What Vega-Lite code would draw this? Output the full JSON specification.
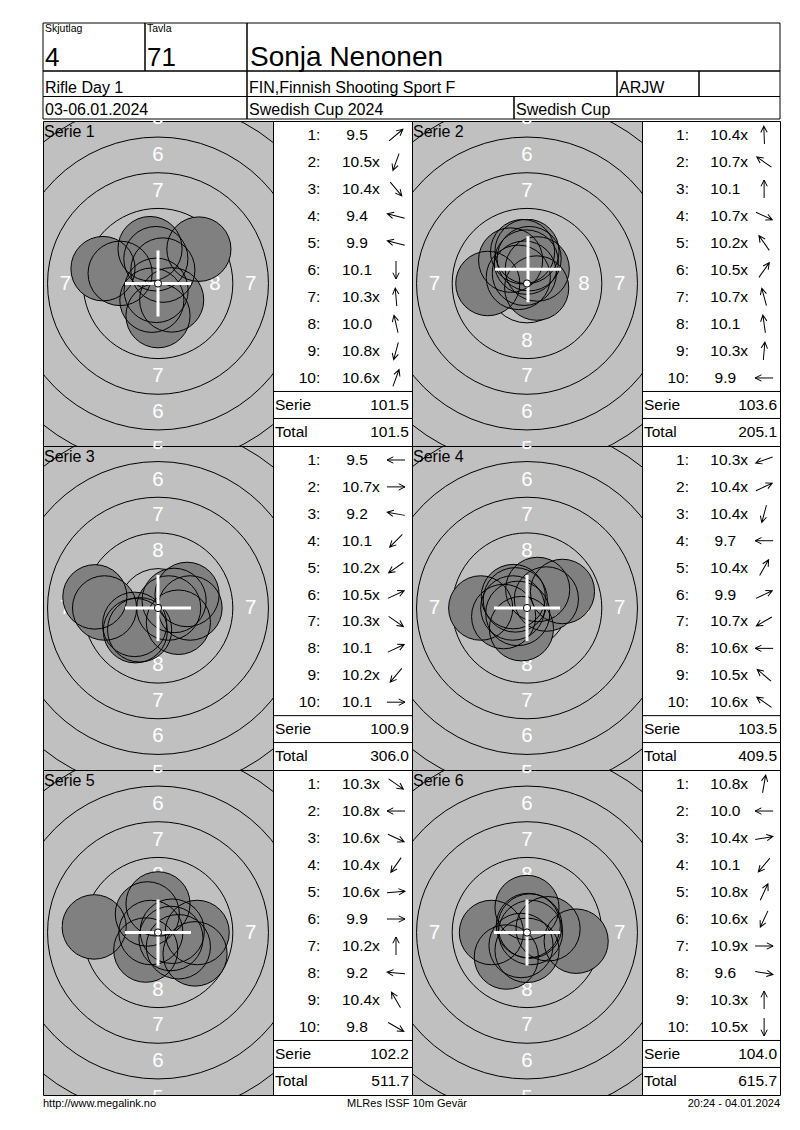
{
  "$schema": "https://vega.github.io/schema/vega-lite/v6.json",
  "background": "white",
  "padding": {"left": 42, "top": 22, "right": 21, "bottom": 10},
  "config": {
    "view": {"stroke": null},
    "axis": {"disable": true},
    "legend": {"disable": true},
    "font": "Liberation Sans",
    "text": {"color": "black", "font": "Liberation Sans"},
    "concat": {"spacing": 0}
  },
  "datasets": {
    "cells": [
      {"x0": 0, "x1": 102, "y0": 0, "y1": 48, "tag": "Skjutlag", "text": "4", "kind": "big"},
      {"x0": 102, "x1": 204, "y0": 0, "y1": 48, "tag": "Tavla", "text": "71", "kind": "big"},
      {"x0": 204, "x1": 737, "y0": 0, "y1": 48, "tag": "", "text": "Sonja Nenonen", "kind": "name"},
      {"x0": 0, "x1": 204, "y0": 48, "y1": 73.5, "tag": "", "text": "Rifle Day 1", "kind": "row"},
      {"x0": 204, "x1": 574, "y0": 48, "y1": 73.5, "tag": "", "text": "FIN,Finnish Shooting Sport F", "kind": "row"},
      {"x0": 574, "x1": 656, "y0": 48, "y1": 73.5, "tag": "", "text": "ARJW", "kind": "row"},
      {"x0": 656, "x1": 737, "y0": 48, "y1": 73.5, "tag": "", "text": "", "kind": "row"},
      {"x0": 0, "x1": 204, "y0": 73.5, "y1": 96, "tag": "", "text": "03-06.01.2024", "kind": "row"},
      {"x0": 204, "x1": 471, "y0": 73.5, "y1": 96, "tag": "", "text": "Swedish Cup 2024", "kind": "row"},
      {"x0": 471, "x1": 737, "y0": 73.5, "y1": 96, "tag": "", "text": "Swedish Cup", "kind": "row"}
    ],
    "series": [
      {"serie": 1, "label": "Serie 1"}, {"serie": 2, "label": "Serie 2"}, {"serie": 3, "label": "Serie 3"},
      {"serie": 4, "label": "Serie 4"}, {"serie": 5, "label": "Serie 5"}, {"serie": 6, "label": "Serie 6"}
    ],
    "rings": [
      {"ring": 10, "r": 0.25, "x": 0, "y": 0},
      {"ring": 9, "r": 2.75, "x": 0, "y": 0},
      {"ring": 8, "r": 5.25, "x": 0, "y": 0},
      {"ring": 7, "r": 7.75, "x": 0, "y": 0},
      {"ring": 6, "r": 10.25, "x": 0, "y": 0},
      {"ring": 5, "r": 12.75, "x": 0, "y": 0}
    ],
    "ringlabels": [
      {"label": "8", "x": 0, "y": 4}, {"label": "8", "x": 0, "y": -4}, {"label": "8", "x": -4, "y": 0}, {"label": "8", "x": 4, "y": 0},
      {"label": "7", "x": 0, "y": 6.5}, {"label": "7", "x": 0, "y": -6.5}, {"label": "7", "x": -6.5, "y": 0}, {"label": "7", "x": 6.5, "y": 0},
      {"label": "6", "x": 0, "y": 9}, {"label": "6", "x": 0, "y": -9},
      {"label": "5", "x": 0, "y": 11.6}, {"label": "5", "x": 0, "y": -11.6}
    ],
    "cross": [
      {"serie": 1, "x": 0, "y": 0}, {"serie": 2, "x": 0.07, "y": 1.0}, {"serie": 3, "x": 0, "y": 0},
      {"serie": 4, "x": 0, "y": 0}, {"serie": 5, "x": 0, "y": 0}, {"serie": 6, "x": 0, "y": 0}
    ],
    "seps": [{"line": 10.5}, {"line": 11.5}],
    "footer": [
      {"pos": "left", "text": "http://www.megalink.no"},
      {"pos": "center", "text": "MLRes ISSF 10m Gevär"},
      {"pos": "right", "text": "20:24 - 04.01.2024"}
    ],
    "shots": [
      {"serie": 1, "n": 1, "score": 9.5, "inner": false, "dir": 40, "x": 2.87, "y": 2.41},
      {"serie": 1, "n": 2, "score": 10.5, "inner": true, "dir": -110, "x": -0.43, "y": -1.17},
      {"serie": 1, "n": 3, "score": 10.4, "inner": true, "dir": -50, "x": 0.96, "y": -1.15},
      {"serie": 1, "n": 4, "score": 9.4, "inner": false, "dir": 165, "x": -3.86, "y": 1.04},
      {"serie": 1, "n": 5, "score": 9.9, "inner": false, "dir": 165, "x": -2.66, "y": 0.71},
      {"serie": 1, "n": 6, "score": 10.1, "inner": false, "dir": -90, "x": 0, "y": -2.25},
      {"serie": 1, "n": 7, "score": 10.3, "inner": true, "dir": 95, "x": -0.15, "y": 1.74},
      {"serie": 1, "n": 8, "score": 10.0, "inner": false, "dir": 103, "x": -0.56, "y": 2.44},
      {"serie": 1, "n": 9, "score": 10.8, "inner": true, "dir": -105, "x": -0.13, "y": -0.48},
      {"serie": 1, "n": 10, "score": 10.6, "inner": true, "dir": 70, "x": 0.34, "y": 0.94},
      {"serie": 2, "n": 1, "score": 10.4, "inner": true, "dir": 92, "x": -0.05, "y": 1.5},
      {"serie": 2, "n": 2, "score": 10.7, "inner": true, "dir": 145, "x": -0.61, "y": 0.43},
      {"serie": 2, "n": 3, "score": 10.1, "inner": false, "dir": 90, "x": 0, "y": 2.25},
      {"serie": 2, "n": 4, "score": 10.7, "inner": true, "dir": -25, "x": 0.68, "y": -0.32},
      {"serie": 2, "n": 5, "score": 10.2, "inner": true, "dir": 125, "x": -1.15, "y": 1.64},
      {"serie": 2, "n": 6, "score": 10.5, "inner": true, "dir": 55, "x": 0.72, "y": 1.02},
      {"serie": 2, "n": 7, "score": 10.7, "inner": true, "dir": 105, "x": -0.19, "y": 0.72},
      {"serie": 2, "n": 8, "score": 10.1, "inner": false, "dir": 98, "x": -0.31, "y": 2.23},
      {"serie": 2, "n": 9, "score": 10.3, "inner": true, "dir": 85, "x": 0.15, "y": 1.74},
      {"serie": 2, "n": 10, "score": 9.9, "inner": false, "dir": 180, "x": -2.75, "y": 0},
      {"serie": 3, "n": 1, "score": 9.5, "inner": false, "dir": 180, "x": -3.75, "y": 0},
      {"serie": 3, "n": 2, "score": 10.7, "inner": true, "dir": 0, "x": 0.75, "y": 0},
      {"serie": 3, "n": 3, "score": 9.2, "inner": false, "dir": 170, "x": -4.43, "y": 0.78},
      {"serie": 3, "n": 4, "score": 10.1, "inner": false, "dir": -135, "x": -1.59, "y": -1.59},
      {"serie": 3, "n": 5, "score": 10.2, "inner": true, "dir": -145, "x": -1.64, "y": -1.15},
      {"serie": 3, "n": 6, "score": 10.5, "inner": true, "dir": 25, "x": 1.13, "y": 0.53},
      {"serie": 3, "n": 7, "score": 10.3, "inner": true, "dir": -35, "x": 1.43, "y": -1.0},
      {"serie": 3, "n": 8, "score": 10.1, "inner": false, "dir": 25, "x": 2.04, "y": 0.95},
      {"serie": 3, "n": 9, "score": 10.2, "inner": true, "dir": -130, "x": -1.29, "y": -1.53},
      {"serie": 3, "n": 10, "score": 10.1, "inner": false, "dir": 0, "x": 2.25, "y": 0},
      {"serie": 4, "n": 1, "score": 10.3, "inner": true, "dir": -160, "x": -1.64, "y": -0.6},
      {"serie": 4, "n": 2, "score": 10.4, "inner": true, "dir": 25, "x": 1.36, "y": 0.63},
      {"serie": 4, "n": 3, "score": 10.4, "inner": true, "dir": -105, "x": -0.39, "y": -1.45},
      {"serie": 4, "n": 4, "score": 9.7, "inner": false, "dir": 180, "x": -3.25, "y": 0},
      {"serie": 4, "n": 5, "score": 10.4, "inner": true, "dir": 60, "x": 0.75, "y": 1.3},
      {"serie": 4, "n": 6, "score": 9.9, "inner": false, "dir": 25, "x": 2.49, "y": 1.16},
      {"serie": 4, "n": 7, "score": 10.7, "inner": true, "dir": -150, "x": -0.65, "y": -0.38},
      {"serie": 4, "n": 8, "score": 10.6, "inner": true, "dir": 180, "x": -1.0, "y": 0},
      {"serie": 4, "n": 9, "score": 10.5, "inner": true, "dir": 140, "x": -0.96, "y": 0.8},
      {"serie": 4, "n": 10, "score": 10.6, "inner": true, "dir": 145, "x": -0.82, "y": 0.57},
      {"serie": 5, "n": 1, "score": 10.3, "inner": true, "dir": -35, "x": 1.43, "y": -1.0},
      {"serie": 5, "n": 2, "score": 10.8, "inner": true, "dir": 180, "x": -0.5, "y": 0},
      {"serie": 5, "n": 3, "score": 10.6, "inner": true, "dir": -25, "x": 0.91, "y": -0.42},
      {"serie": 5, "n": 4, "score": 10.4, "inner": true, "dir": -125, "x": -0.86, "y": -1.23},
      {"serie": 5, "n": 5, "score": 10.6, "inner": true, "dir": 5, "x": 1.0, "y": 0.09},
      {"serie": 5, "n": 6, "score": 9.9, "inner": false, "dir": 0, "x": 2.75, "y": 0},
      {"serie": 5, "n": 7, "score": 10.2, "inner": true, "dir": 90, "x": 0, "y": 2.0},
      {"serie": 5, "n": 8, "score": 9.2, "inner": false, "dir": 175, "x": -4.48, "y": 0.39},
      {"serie": 5, "n": 9, "score": 10.4, "inner": true, "dir": 120, "x": -0.75, "y": 1.3},
      {"serie": 5, "n": 10, "score": 9.8, "inner": false, "dir": -30, "x": 2.6, "y": -1.5},
      {"serie": 6, "n": 1, "score": 10.8, "inner": true, "dir": 80, "x": 0.09, "y": 0.49},
      {"serie": 6, "n": 2, "score": 10.0, "inner": false, "dir": 180, "x": -2.5, "y": 0},
      {"serie": 6, "n": 3, "score": 10.4, "inner": true, "dir": 10, "x": 1.48, "y": 0.26},
      {"serie": 6, "n": 4, "score": 10.1, "inner": false, "dir": -130, "x": -1.45, "y": -1.72},
      {"serie": 6, "n": 5, "score": 10.8, "inner": true, "dir": 65, "x": 0.21, "y": 0.45},
      {"serie": 6, "n": 6, "score": 10.6, "inner": true, "dir": -115, "x": -0.42, "y": -0.91},
      {"serie": 6, "n": 7, "score": 10.9, "inner": true, "dir": 0, "x": 0.25, "y": 0},
      {"serie": 6, "n": 8, "score": 9.6, "inner": false, "dir": -10, "x": 3.45, "y": -0.61},
      {"serie": 6, "n": 9, "score": 10.3, "inner": true, "dir": 90, "x": 0, "y": 1.75},
      {"serie": 6, "n": 10, "score": 10.5, "inner": true, "dir": -90, "x": 0, "y": -1.25}
    ]
  },
  "spacing": 0,
  "vconcat": [
    {
      "width": 737, "height": 96,
      "data": {"name": "cells"},
      "layer": [
        {"mark": {"type": "rect", "filled": false, "color": "black", "strokeWidth": 1},
         "encoding": {
           "x": {"field": "x0", "type": "quantitative", "scale": {"domain": [0, 737]}},
           "x2": {"field": "x1"},
           "y": {"field": "y0", "type": "quantitative", "scale": {"domain": [0, 96], "reverse": true}},
           "y2": {"field": "y1"}}},
        {"transform": [{"filter": "datum.tag != ''"}],
         "mark": {"type": "text", "align": "left", "baseline": "top", "dx": 2, "dy": 1, "fontSize": 10.5},
         "encoding": {
           "x": {"field": "x0", "type": "quantitative", "scale": {"domain": [0, 737]}},
           "y": {"field": "y0", "type": "quantitative", "scale": {"domain": [0, 96], "reverse": true}},
           "text": {"field": "tag"}}},
        {"transform": [{"filter": "datum.kind == 'big'"}],
         "mark": {"type": "text", "align": "left", "baseline": "alphabetic", "dx": 2, "dy": -5, "fontSize": 26},
         "encoding": {
           "x": {"field": "x0", "type": "quantitative", "scale": {"domain": [0, 737]}},
           "y": {"field": "y1", "type": "quantitative", "scale": {"domain": [0, 96], "reverse": true}},
           "text": {"field": "text"}}},
        {"transform": [{"filter": "datum.kind == 'name'"}],
         "mark": {"type": "text", "align": "left", "baseline": "alphabetic", "dx": 3, "dy": -5, "fontSize": 28},
         "encoding": {
           "x": {"field": "x0", "type": "quantitative", "scale": {"domain": [0, 737]}},
           "y": {"field": "y1", "type": "quantitative", "scale": {"domain": [0, 96], "reverse": true}},
           "text": {"field": "text"}}},
        {"transform": [{"filter": "datum.kind == 'row'"}],
         "mark": {"type": "text", "align": "left", "baseline": "alphabetic", "dx": 2, "dy": -4, "fontSize": 16},
         "encoding": {
           "x": {"field": "x0", "type": "quantitative", "scale": {"domain": [0, 737]}},
           "y": {"field": "y1", "type": "quantitative", "scale": {"domain": [0, 96], "reverse": true}},
           "text": {"field": "text"}}}
      ]
    },
    {
      "columns": 4, "spacing": 0, "bounds": "flush", "align": "each",
      "concat": [
        {"width": 230, "height": 325, "view": {"fill": "#c0c0c0", "stroke": "black", "strokeWidth": 1},
         "layer": [
          {"data": {"name": "rings"}, "transform": [{"filter": "datum.ring < 10"}],
           "mark": {"type": "point", "shape": "circle", "filled": false, "color": "black", "strokeWidth": 1, "opacity": 1, "clip": true},
           "encoding": {"x": {"field": "x", "type": "quantitative", "scale": {"domain": [-8.07, 8.07]}}, "y": {"field": "y", "type": "quantitative", "scale": {"domain": [-11.4, 11.4]}},
             "size": {"field": "r", "type": "quantitative", "legend": null, "scale": {"type": "pow", "exponent": 2, "domain": [0, 16], "range": [0, 207936]}}}},
          {"data": {"name": "ringlabels"},
           "mark": {"type": "text", "color": "white", "fontSize": 20.5, "baseline": "middle", "clip": true},
           "encoding": {"x": {"field": "x", "type": "quantitative", "scale": {"domain": [-8.07, 8.07]}}, "y": {"field": "y", "type": "quantitative", "scale": {"domain": [-11.4, 11.4]}}, "text": {"field": "label"}}},
          {"data": {"name": "shots"}, "transform": [{"filter": "datum.serie == 1"}],
           "mark": {"type": "point", "shape": "circle", "filled": true, "color": "#808080", "strokeWidth": 0, "opacity": 1},
           "encoding": {"x": {"field": "x", "type": "quantitative", "scale": {"domain": [-8.07, 8.07]}}, "y": {"field": "y", "type": "quantitative", "scale": {"domain": [-11.4, 11.4]}},
             "size": {"datum": 2.25, "type": "quantitative", "legend": null, "scale": {"type": "pow", "exponent": 2, "domain": [0, 16], "range": [0, 207936]}}}},
          {"data": {"name": "shots"}, "transform": [{"filter": "datum.serie == 1"}],
           "mark": {"type": "point", "shape": "circle", "filled": false, "color": "black", "strokeWidth": 1, "opacity": 1},
           "encoding": {"x": {"field": "x", "type": "quantitative", "scale": {"domain": [-8.07, 8.07]}}, "y": {"field": "y", "type": "quantitative", "scale": {"domain": [-11.4, 11.4]}},
             "size": {"datum": 2.25, "type": "quantitative", "legend": null, "scale": {"type": "pow", "exponent": 2, "domain": [0, 16], "range": [0, 207936]}}}},
          {"data": {"name": "cross"}, "transform": [{"filter": "datum.serie == 1"}],
           "mark": {"type": "point", "shape": "M-1,0L1,0M0,-1L0,1", "filled": false, "color": "white", "strokeWidth": 3, "size": 4356, "opacity": 1},
           "encoding": {"x": {"field": "x", "type": "quantitative", "scale": {"domain": [-8.07, 8.07]}}, "y": {"field": "y", "type": "quantitative", "scale": {"domain": [-11.4, 11.4]}}}},
          {"data": {"name": "rings"}, "transform": [{"filter": "datum.ring == 10"}],
           "mark": {"type": "point", "shape": "circle", "filled": true, "fill": "white", "stroke": "black", "strokeWidth": 1, "opacity": 1},
           "encoding": {"x": {"field": "x", "type": "quantitative", "scale": {"domain": [-8.07, 8.07]}}, "y": {"field": "y", "type": "quantitative", "scale": {"domain": [-11.4, 11.4]}},
             "size": {"field": "r", "type": "quantitative", "legend": null, "scale": {"type": "pow", "exponent": 2, "domain": [0, 16], "range": [0, 207936]}}}},
          {"data": {"name": "series"}, "transform": [{"filter": "datum.serie == 1"}],
           "mark": {"type": "text", "align": "left", "baseline": "top", "dx": 1, "dy": 2.5, "fontSize": 16},
           "encoding": {"x": {"datum": -8.07, "type": "quantitative", "scale": {"domain": [-8.07, 8.07]}}, "y": {"datum": 11.4, "type": "quantitative", "scale": {"domain": [-11.4, 11.4]}}, "text": {"field": "label"}}}
         ]},
        {"width": 139, "height": 325, "view": {"stroke": "black", "strokeWidth": 1},
         "layer": [
          {"data": {"name": "shots"}, "transform": [{"filter": "datum.serie == 1"}],
           "mark": {"type": "text", "align": "right", "baseline": "middle", "fontSize": 15.5},
           "encoding": {"x": {"datum": 43, "type": "quantitative", "scale": {"domain": [0, 139]}}, "y": {"field": "n", "type": "quantitative", "scale": {"domain": [0.48, 12.52], "reverse": true}}, "text": {"field": "n", "type": "quantitative"}}},
          {"data": {"name": "shots"}, "transform": [{"filter": "datum.serie == 1"}],
           "mark": {"type": "text", "align": "left", "baseline": "middle", "fontSize": 15.5},
           "encoding": {"x": {"datum": 43, "type": "quantitative", "scale": {"domain": [0, 139]}}, "y": {"field": "n", "type": "quantitative", "scale": {"domain": [0.48, 12.52], "reverse": true}}, "text": {"value": ":"}}},
          {"data": {"name": "shots"}, "transform": [{"filter": "datum.serie == 1"}],
           "mark": {"type": "text", "align": "center", "baseline": "middle", "fontSize": 15.5},
           "encoding": {"x": {"datum": 84, "type": "quantitative", "scale": {"domain": [0, 139]}}, "y": {"field": "n", "type": "quantitative", "scale": {"domain": [0.48, 12.52], "reverse": true}}, "text": {"field": "score", "type": "quantitative", "format": ".1f"}}},
          {"data": {"name": "shots"}, "transform": [{"filter": "datum.serie == 1 && datum.inner"}],
           "mark": {"type": "text", "align": "left", "baseline": "middle", "fontSize": 15.5},
           "encoding": {"x": {"datum": 99, "type": "quantitative", "scale": {"domain": [0, 139]}}, "y": {"field": "n", "type": "quantitative", "scale": {"domain": [0.48, 12.52], "reverse": true}}, "text": {"value": "x"}}},
          {"data": {"name": "shots"}, "transform": [{"filter": "datum.serie == 1"}],
           "mark": {"type": "point", "shape": "M-1,0L1,0M0.3,-0.35L1,0L0.3,0.35", "filled": false, "color": "black", "strokeWidth": 1, "size": 324, "opacity": 1},
           "encoding": {"x": {"datum": 123, "type": "quantitative", "scale": {"domain": [0, 139]}}, "y": {"field": "n", "type": "quantitative", "scale": {"domain": [0.48, 12.52], "reverse": true}}, "angle": {"field": "dir", "type": "quantitative", "scale": {"domain": [0, 360], "range": [360, 0]}}}},
          {"data": {"name": "seps"},
           "mark": {"type": "rule", "color": "black", "strokeWidth": 1},
           "encoding": {"x": {"datum": 0, "type": "quantitative", "scale": {"domain": [0, 139]}}, "x2": {"datum": 139}, "y": {"field": "line", "type": "quantitative", "scale": {"domain": [0.48, 12.52], "reverse": true}}}},
          {"data": {"name": "shots"}, "transform": [{"filter": "datum.serie == 1"}, {"aggregate": [{"op": "sum", "field": "score", "as": "sum"}]}],
           "layer": [
             {"mark": {"type": "text", "align": "left", "baseline": "middle", "fontSize": 15.5},
              "encoding": {"x": {"datum": 2, "type": "quantitative", "scale": {"domain": [0, 139]}}, "y": {"datum": 11, "type": "quantitative", "scale": {"domain": [0.48, 12.52], "reverse": true}}, "text": {"value": "Serie"}}},
             {"mark": {"type": "text", "align": "right", "baseline": "middle", "fontSize": 15.5},
              "encoding": {"x": {"datum": 136, "type": "quantitative", "scale": {"domain": [0, 139]}}, "y": {"datum": 11, "type": "quantitative", "scale": {"domain": [0.48, 12.52], "reverse": true}}, "text": {"field": "sum", "type": "quantitative", "format": ".1f"}}}
           ]},
          {"data": {"name": "shots"}, "transform": [{"filter": "datum.serie <= 1"}, {"aggregate": [{"op": "sum", "field": "score", "as": "sum"}]}],
           "layer": [
             {"mark": {"type": "text", "align": "left", "baseline": "middle", "fontSize": 15.5},
              "encoding": {"x": {"datum": 2, "type": "quantitative", "scale": {"domain": [0, 139]}}, "y": {"datum": 12, "type": "quantitative", "scale": {"domain": [0.48, 12.52], "reverse": true}}, "text": {"value": "Total"}}},
             {"mark": {"type": "text", "align": "right", "baseline": "middle", "fontSize": 15.5},
              "encoding": {"x": {"datum": 136, "type": "quantitative", "scale": {"domain": [0, 139]}}, "y": {"datum": 12, "type": "quantitative", "scale": {"domain": [0.48, 12.52], "reverse": true}}, "text": {"field": "sum", "type": "quantitative", "format": ".1f"}}}
           ]}
         ]},
        {"width": 230, "height": 325, "view": {"fill": "#c0c0c0", "stroke": "black", "strokeWidth": 1},
         "layer": [
          {"data": {"name": "rings"}, "transform": [{"filter": "datum.ring < 10"}],
           "mark": {"type": "point", "shape": "circle", "filled": false, "color": "black", "strokeWidth": 1, "opacity": 1, "clip": true},
           "encoding": {"x": {"field": "x", "type": "quantitative", "scale": {"domain": [-8.07, 8.07]}}, "y": {"field": "y", "type": "quantitative", "scale": {"domain": [-11.4, 11.4]}},
             "size": {"field": "r", "type": "quantitative", "legend": null, "scale": {"type": "pow", "exponent": 2, "domain": [0, 16], "range": [0, 207936]}}}},
          {"data": {"name": "ringlabels"},
           "mark": {"type": "text", "color": "white", "fontSize": 20.5, "baseline": "middle", "clip": true},
           "encoding": {"x": {"field": "x", "type": "quantitative", "scale": {"domain": [-8.07, 8.07]}}, "y": {"field": "y", "type": "quantitative", "scale": {"domain": [-11.4, 11.4]}}, "text": {"field": "label"}}},
          {"data": {"name": "shots"}, "transform": [{"filter": "datum.serie == 2"}],
           "mark": {"type": "point", "shape": "circle", "filled": true, "color": "#808080", "strokeWidth": 0, "opacity": 1},
           "encoding": {"x": {"field": "x", "type": "quantitative", "scale": {"domain": [-8.07, 8.07]}}, "y": {"field": "y", "type": "quantitative", "scale": {"domain": [-11.4, 11.4]}},
             "size": {"datum": 2.25, "type": "quantitative", "legend": null, "scale": {"type": "pow", "exponent": 2, "domain": [0, 16], "range": [0, 207936]}}}},
          {"data": {"name": "shots"}, "transform": [{"filter": "datum.serie == 2"}],
           "mark": {"type": "point", "shape": "circle", "filled": false, "color": "black", "strokeWidth": 1, "opacity": 1},
           "encoding": {"x": {"field": "x", "type": "quantitative", "scale": {"domain": [-8.07, 8.07]}}, "y": {"field": "y", "type": "quantitative", "scale": {"domain": [-11.4, 11.4]}},
             "size": {"datum": 2.25, "type": "quantitative", "legend": null, "scale": {"type": "pow", "exponent": 2, "domain": [0, 16], "range": [0, 207936]}}}},
          {"data": {"name": "cross"}, "transform": [{"filter": "datum.serie == 2"}],
           "mark": {"type": "point", "shape": "M-1,0L1,0M0,-1L0,1", "filled": false, "color": "white", "strokeWidth": 3, "size": 4356, "opacity": 1},
           "encoding": {"x": {"field": "x", "type": "quantitative", "scale": {"domain": [-8.07, 8.07]}}, "y": {"field": "y", "type": "quantitative", "scale": {"domain": [-11.4, 11.4]}}}},
          {"data": {"name": "rings"}, "transform": [{"filter": "datum.ring == 10"}],
           "mark": {"type": "point", "shape": "circle", "filled": true, "fill": "white", "stroke": "black", "strokeWidth": 1, "opacity": 1},
           "encoding": {"x": {"field": "x", "type": "quantitative", "scale": {"domain": [-8.07, 8.07]}}, "y": {"field": "y", "type": "quantitative", "scale": {"domain": [-11.4, 11.4]}},
             "size": {"field": "r", "type": "quantitative", "legend": null, "scale": {"type": "pow", "exponent": 2, "domain": [0, 16], "range": [0, 207936]}}}},
          {"data": {"name": "series"}, "transform": [{"filter": "datum.serie == 2"}],
           "mark": {"type": "text", "align": "left", "baseline": "top", "dx": 1, "dy": 2.5, "fontSize": 16},
           "encoding": {"x": {"datum": -8.07, "type": "quantitative", "scale": {"domain": [-8.07, 8.07]}}, "y": {"datum": 11.4, "type": "quantitative", "scale": {"domain": [-11.4, 11.4]}}, "text": {"field": "label"}}}
         ]},
        {"width": 138, "height": 325, "view": {"stroke": "black", "strokeWidth": 1},
         "layer": [
          {"data": {"name": "shots"}, "transform": [{"filter": "datum.serie == 2"}],
           "mark": {"type": "text", "align": "right", "baseline": "middle", "fontSize": 15.5},
           "encoding": {"x": {"datum": 43, "type": "quantitative", "scale": {"domain": [0, 139]}}, "y": {"field": "n", "type": "quantitative", "scale": {"domain": [0.48, 12.52], "reverse": true}}, "text": {"field": "n", "type": "quantitative"}}},
          {"data": {"name": "shots"}, "transform": [{"filter": "datum.serie == 2"}],
           "mark": {"type": "text", "align": "left", "baseline": "middle", "fontSize": 15.5},
           "encoding": {"x": {"datum": 43, "type": "quantitative", "scale": {"domain": [0, 139]}}, "y": {"field": "n", "type": "quantitative", "scale": {"domain": [0.48, 12.52], "reverse": true}}, "text": {"value": ":"}}},
          {"data": {"name": "shots"}, "transform": [{"filter": "datum.serie == 2"}],
           "mark": {"type": "text", "align": "center", "baseline": "middle", "fontSize": 15.5},
           "encoding": {"x": {"datum": 84, "type": "quantitative", "scale": {"domain": [0, 139]}}, "y": {"field": "n", "type": "quantitative", "scale": {"domain": [0.48, 12.52], "reverse": true}}, "text": {"field": "score", "type": "quantitative", "format": ".1f"}}},
          {"data": {"name": "shots"}, "transform": [{"filter": "datum.serie == 2 && datum.inner"}],
           "mark": {"type": "text", "align": "left", "baseline": "middle", "fontSize": 15.5},
           "encoding": {"x": {"datum": 99, "type": "quantitative", "scale": {"domain": [0, 139]}}, "y": {"field": "n", "type": "quantitative", "scale": {"domain": [0.48, 12.52], "reverse": true}}, "text": {"value": "x"}}},
          {"data": {"name": "shots"}, "transform": [{"filter": "datum.serie == 2"}],
           "mark": {"type": "point", "shape": "M-1,0L1,0M0.3,-0.35L1,0L0.3,0.35", "filled": false, "color": "black", "strokeWidth": 1, "size": 324, "opacity": 1},
           "encoding": {"x": {"datum": 123, "type": "quantitative", "scale": {"domain": [0, 139]}}, "y": {"field": "n", "type": "quantitative", "scale": {"domain": [0.48, 12.52], "reverse": true}}, "angle": {"field": "dir", "type": "quantitative", "scale": {"domain": [0, 360], "range": [360, 0]}}}},
          {"data": {"name": "seps"},
           "mark": {"type": "rule", "color": "black", "strokeWidth": 1},
           "encoding": {"x": {"datum": 0, "type": "quantitative", "scale": {"domain": [0, 139]}}, "x2": {"datum": 139}, "y": {"field": "line", "type": "quantitative", "scale": {"domain": [0.48, 12.52], "reverse": true}}}},
          {"data": {"name": "shots"}, "transform": [{"filter": "datum.serie == 2"}, {"aggregate": [{"op": "sum", "field": "score", "as": "sum"}]}],
           "layer": [
             {"mark": {"type": "text", "align": "left", "baseline": "middle", "fontSize": 15.5},
              "encoding": {"x": {"datum": 2, "type": "quantitative", "scale": {"domain": [0, 139]}}, "y": {"datum": 11, "type": "quantitative", "scale": {"domain": [0.48, 12.52], "reverse": true}}, "text": {"value": "Serie"}}},
             {"mark": {"type": "text", "align": "right", "baseline": "middle", "fontSize": 15.5},
              "encoding": {"x": {"datum": 136, "type": "quantitative", "scale": {"domain": [0, 139]}}, "y": {"datum": 11, "type": "quantitative", "scale": {"domain": [0.48, 12.52], "reverse": true}}, "text": {"field": "sum", "type": "quantitative", "format": ".1f"}}}
           ]},
          {"data": {"name": "shots"}, "transform": [{"filter": "datum.serie <= 2"}, {"aggregate": [{"op": "sum", "field": "score", "as": "sum"}]}],
           "layer": [
             {"mark": {"type": "text", "align": "left", "baseline": "middle", "fontSize": 15.5},
              "encoding": {"x": {"datum": 2, "type": "quantitative", "scale": {"domain": [0, 139]}}, "y": {"datum": 12, "type": "quantitative", "scale": {"domain": [0.48, 12.52], "reverse": true}}, "text": {"value": "Total"}}},
             {"mark": {"type": "text", "align": "right", "baseline": "middle", "fontSize": 15.5},
              "encoding": {"x": {"datum": 136, "type": "quantitative", "scale": {"domain": [0, 139]}}, "y": {"datum": 12, "type": "quantitative", "scale": {"domain": [0.48, 12.52], "reverse": true}}, "text": {"field": "sum", "type": "quantitative", "format": ".1f"}}}
           ]}
         ]},
        {"width": 230, "height": 324, "view": {"fill": "#c0c0c0", "stroke": "black", "strokeWidth": 1},
         "layer": [
          {"data": {"name": "rings"}, "transform": [{"filter": "datum.ring < 10"}],
           "mark": {"type": "point", "shape": "circle", "filled": false, "color": "black", "strokeWidth": 1, "opacity": 1, "clip": true},
           "encoding": {"x": {"field": "x", "type": "quantitative", "scale": {"domain": [-8.07, 8.07]}}, "y": {"field": "y", "type": "quantitative", "scale": {"domain": [-11.37, 11.37]}},
             "size": {"field": "r", "type": "quantitative", "legend": null, "scale": {"type": "pow", "exponent": 2, "domain": [0, 16], "range": [0, 207936]}}}},
          {"data": {"name": "ringlabels"},
           "mark": {"type": "text", "color": "white", "fontSize": 20.5, "baseline": "middle", "clip": true},
           "encoding": {"x": {"field": "x", "type": "quantitative", "scale": {"domain": [-8.07, 8.07]}}, "y": {"field": "y", "type": "quantitative", "scale": {"domain": [-11.37, 11.37]}}, "text": {"field": "label"}}},
          {"data": {"name": "shots"}, "transform": [{"filter": "datum.serie == 3"}],
           "mark": {"type": "point", "shape": "circle", "filled": true, "color": "#808080", "strokeWidth": 0, "opacity": 1},
           "encoding": {"x": {"field": "x", "type": "quantitative", "scale": {"domain": [-8.07, 8.07]}}, "y": {"field": "y", "type": "quantitative", "scale": {"domain": [-11.37, 11.37]}},
             "size": {"datum": 2.25, "type": "quantitative", "legend": null, "scale": {"type": "pow", "exponent": 2, "domain": [0, 16], "range": [0, 207936]}}}},
          {"data": {"name": "shots"}, "transform": [{"filter": "datum.serie == 3"}],
           "mark": {"type": "point", "shape": "circle", "filled": false, "color": "black", "strokeWidth": 1, "opacity": 1},
           "encoding": {"x": {"field": "x", "type": "quantitative", "scale": {"domain": [-8.07, 8.07]}}, "y": {"field": "y", "type": "quantitative", "scale": {"domain": [-11.37, 11.37]}},
             "size": {"datum": 2.25, "type": "quantitative", "legend": null, "scale": {"type": "pow", "exponent": 2, "domain": [0, 16], "range": [0, 207936]}}}},
          {"data": {"name": "cross"}, "transform": [{"filter": "datum.serie == 3"}],
           "mark": {"type": "point", "shape": "M-1,0L1,0M0,-1L0,1", "filled": false, "color": "white", "strokeWidth": 3, "size": 4356, "opacity": 1},
           "encoding": {"x": {"field": "x", "type": "quantitative", "scale": {"domain": [-8.07, 8.07]}}, "y": {"field": "y", "type": "quantitative", "scale": {"domain": [-11.37, 11.37]}}}},
          {"data": {"name": "rings"}, "transform": [{"filter": "datum.ring == 10"}],
           "mark": {"type": "point", "shape": "circle", "filled": true, "fill": "white", "stroke": "black", "strokeWidth": 1, "opacity": 1},
           "encoding": {"x": {"field": "x", "type": "quantitative", "scale": {"domain": [-8.07, 8.07]}}, "y": {"field": "y", "type": "quantitative", "scale": {"domain": [-11.37, 11.37]}},
             "size": {"field": "r", "type": "quantitative", "legend": null, "scale": {"type": "pow", "exponent": 2, "domain": [0, 16], "range": [0, 207936]}}}},
          {"data": {"name": "series"}, "transform": [{"filter": "datum.serie == 3"}],
           "mark": {"type": "text", "align": "left", "baseline": "top", "dx": 1, "dy": 2.5, "fontSize": 16},
           "encoding": {"x": {"datum": -8.07, "type": "quantitative", "scale": {"domain": [-8.07, 8.07]}}, "y": {"datum": 11.37, "type": "quantitative", "scale": {"domain": [-11.37, 11.37]}}, "text": {"field": "label"}}}
         ]},
        {"width": 139, "height": 324, "view": {"stroke": "black", "strokeWidth": 1},
         "layer": [
          {"data": {"name": "shots"}, "transform": [{"filter": "datum.serie == 3"}],
           "mark": {"type": "text", "align": "right", "baseline": "middle", "fontSize": 15.5},
           "encoding": {"x": {"datum": 43, "type": "quantitative", "scale": {"domain": [0, 139]}}, "y": {"field": "n", "type": "quantitative", "scale": {"domain": [0.48, 12.52], "reverse": true}}, "text": {"field": "n", "type": "quantitative"}}},
          {"data": {"name": "shots"}, "transform": [{"filter": "datum.serie == 3"}],
           "mark": {"type": "text", "align": "left", "baseline": "middle", "fontSize": 15.5},
           "encoding": {"x": {"datum": 43, "type": "quantitative", "scale": {"domain": [0, 139]}}, "y": {"field": "n", "type": "quantitative", "scale": {"domain": [0.48, 12.52], "reverse": true}}, "text": {"value": ":"}}},
          {"data": {"name": "shots"}, "transform": [{"filter": "datum.serie == 3"}],
           "mark": {"type": "text", "align": "center", "baseline": "middle", "fontSize": 15.5},
           "encoding": {"x": {"datum": 84, "type": "quantitative", "scale": {"domain": [0, 139]}}, "y": {"field": "n", "type": "quantitative", "scale": {"domain": [0.48, 12.52], "reverse": true}}, "text": {"field": "score", "type": "quantitative", "format": ".1f"}}},
          {"data": {"name": "shots"}, "transform": [{"filter": "datum.serie == 3 && datum.inner"}],
           "mark": {"type": "text", "align": "left", "baseline": "middle", "fontSize": 15.5},
           "encoding": {"x": {"datum": 99, "type": "quantitative", "scale": {"domain": [0, 139]}}, "y": {"field": "n", "type": "quantitative", "scale": {"domain": [0.48, 12.52], "reverse": true}}, "text": {"value": "x"}}},
          {"data": {"name": "shots"}, "transform": [{"filter": "datum.serie == 3"}],
           "mark": {"type": "point", "shape": "M-1,0L1,0M0.3,-0.35L1,0L0.3,0.35", "filled": false, "color": "black", "strokeWidth": 1, "size": 324, "opacity": 1},
           "encoding": {"x": {"datum": 123, "type": "quantitative", "scale": {"domain": [0, 139]}}, "y": {"field": "n", "type": "quantitative", "scale": {"domain": [0.48, 12.52], "reverse": true}}, "angle": {"field": "dir", "type": "quantitative", "scale": {"domain": [0, 360], "range": [360, 0]}}}},
          {"data": {"name": "seps"},
           "mark": {"type": "rule", "color": "black", "strokeWidth": 1},
           "encoding": {"x": {"datum": 0, "type": "quantitative", "scale": {"domain": [0, 139]}}, "x2": {"datum": 139}, "y": {"field": "line", "type": "quantitative", "scale": {"domain": [0.48, 12.52], "reverse": true}}}},
          {"data": {"name": "shots"}, "transform": [{"filter": "datum.serie == 3"}, {"aggregate": [{"op": "sum", "field": "score", "as": "sum"}]}],
           "layer": [
             {"mark": {"type": "text", "align": "left", "baseline": "middle", "fontSize": 15.5},
              "encoding": {"x": {"datum": 2, "type": "quantitative", "scale": {"domain": [0, 139]}}, "y": {"datum": 11, "type": "quantitative", "scale": {"domain": [0.48, 12.52], "reverse": true}}, "text": {"value": "Serie"}}},
             {"mark": {"type": "text", "align": "right", "baseline": "middle", "fontSize": 15.5},
              "encoding": {"x": {"datum": 136, "type": "quantitative", "scale": {"domain": [0, 139]}}, "y": {"datum": 11, "type": "quantitative", "scale": {"domain": [0.48, 12.52], "reverse": true}}, "text": {"field": "sum", "type": "quantitative", "format": ".1f"}}}
           ]},
          {"data": {"name": "shots"}, "transform": [{"filter": "datum.serie <= 3"}, {"aggregate": [{"op": "sum", "field": "score", "as": "sum"}]}],
           "layer": [
             {"mark": {"type": "text", "align": "left", "baseline": "middle", "fontSize": 15.5},
              "encoding": {"x": {"datum": 2, "type": "quantitative", "scale": {"domain": [0, 139]}}, "y": {"datum": 12, "type": "quantitative", "scale": {"domain": [0.48, 12.52], "reverse": true}}, "text": {"value": "Total"}}},
             {"mark": {"type": "text", "align": "right", "baseline": "middle", "fontSize": 15.5},
              "encoding": {"x": {"datum": 136, "type": "quantitative", "scale": {"domain": [0, 139]}}, "y": {"datum": 12, "type": "quantitative", "scale": {"domain": [0.48, 12.52], "reverse": true}}, "text": {"field": "sum", "type": "quantitative", "format": ".1f"}}}
           ]}
         ]},
        {"width": 230, "height": 324, "view": {"fill": "#c0c0c0", "stroke": "black", "strokeWidth": 1},
         "layer": [
          {"data": {"name": "rings"}, "transform": [{"filter": "datum.ring < 10"}],
           "mark": {"type": "point", "shape": "circle", "filled": false, "color": "black", "strokeWidth": 1, "opacity": 1, "clip": true},
           "encoding": {"x": {"field": "x", "type": "quantitative", "scale": {"domain": [-8.07, 8.07]}}, "y": {"field": "y", "type": "quantitative", "scale": {"domain": [-11.37, 11.37]}},
             "size": {"field": "r", "type": "quantitative", "legend": null, "scale": {"type": "pow", "exponent": 2, "domain": [0, 16], "range": [0, 207936]}}}},
          {"data": {"name": "ringlabels"},
           "mark": {"type": "text", "color": "white", "fontSize": 20.5, "baseline": "middle", "clip": true},
           "encoding": {"x": {"field": "x", "type": "quantitative", "scale": {"domain": [-8.07, 8.07]}}, "y": {"field": "y", "type": "quantitative", "scale": {"domain": [-11.37, 11.37]}}, "text": {"field": "label"}}},
          {"data": {"name": "shots"}, "transform": [{"filter": "datum.serie == 4"}],
           "mark": {"type": "point", "shape": "circle", "filled": true, "color": "#808080", "strokeWidth": 0, "opacity": 1},
           "encoding": {"x": {"field": "x", "type": "quantitative", "scale": {"domain": [-8.07, 8.07]}}, "y": {"field": "y", "type": "quantitative", "scale": {"domain": [-11.37, 11.37]}},
             "size": {"datum": 2.25, "type": "quantitative", "legend": null, "scale": {"type": "pow", "exponent": 2, "domain": [0, 16], "range": [0, 207936]}}}},
          {"data": {"name": "shots"}, "transform": [{"filter": "datum.serie == 4"}],
           "mark": {"type": "point", "shape": "circle", "filled": false, "color": "black", "strokeWidth": 1, "opacity": 1},
           "encoding": {"x": {"field": "x", "type": "quantitative", "scale": {"domain": [-8.07, 8.07]}}, "y": {"field": "y", "type": "quantitative", "scale": {"domain": [-11.37, 11.37]}},
             "size": {"datum": 2.25, "type": "quantitative", "legend": null, "scale": {"type": "pow", "exponent": 2, "domain": [0, 16], "range": [0, 207936]}}}},
          {"data": {"name": "cross"}, "transform": [{"filter": "datum.serie == 4"}],
           "mark": {"type": "point", "shape": "M-1,0L1,0M0,-1L0,1", "filled": false, "color": "white", "strokeWidth": 3, "size": 4356, "opacity": 1},
           "encoding": {"x": {"field": "x", "type": "quantitative", "scale": {"domain": [-8.07, 8.07]}}, "y": {"field": "y", "type": "quantitative", "scale": {"domain": [-11.37, 11.37]}}}},
          {"data": {"name": "rings"}, "transform": [{"filter": "datum.ring == 10"}],
           "mark": {"type": "point", "shape": "circle", "filled": true, "fill": "white", "stroke": "black", "strokeWidth": 1, "opacity": 1},
           "encoding": {"x": {"field": "x", "type": "quantitative", "scale": {"domain": [-8.07, 8.07]}}, "y": {"field": "y", "type": "quantitative", "scale": {"domain": [-11.37, 11.37]}},
             "size": {"field": "r", "type": "quantitative", "legend": null, "scale": {"type": "pow", "exponent": 2, "domain": [0, 16], "range": [0, 207936]}}}},
          {"data": {"name": "series"}, "transform": [{"filter": "datum.serie == 4"}],
           "mark": {"type": "text", "align": "left", "baseline": "top", "dx": 1, "dy": 2.5, "fontSize": 16},
           "encoding": {"x": {"datum": -8.07, "type": "quantitative", "scale": {"domain": [-8.07, 8.07]}}, "y": {"datum": 11.37, "type": "quantitative", "scale": {"domain": [-11.37, 11.37]}}, "text": {"field": "label"}}}
         ]},
        {"width": 138, "height": 324, "view": {"stroke": "black", "strokeWidth": 1},
         "layer": [
          {"data": {"name": "shots"}, "transform": [{"filter": "datum.serie == 4"}],
           "mark": {"type": "text", "align": "right", "baseline": "middle", "fontSize": 15.5},
           "encoding": {"x": {"datum": 43, "type": "quantitative", "scale": {"domain": [0, 139]}}, "y": {"field": "n", "type": "quantitative", "scale": {"domain": [0.48, 12.52], "reverse": true}}, "text": {"field": "n", "type": "quantitative"}}},
          {"data": {"name": "shots"}, "transform": [{"filter": "datum.serie == 4"}],
           "mark": {"type": "text", "align": "left", "baseline": "middle", "fontSize": 15.5},
           "encoding": {"x": {"datum": 43, "type": "quantitative", "scale": {"domain": [0, 139]}}, "y": {"field": "n", "type": "quantitative", "scale": {"domain": [0.48, 12.52], "reverse": true}}, "text": {"value": ":"}}},
          {"data": {"name": "shots"}, "transform": [{"filter": "datum.serie == 4"}],
           "mark": {"type": "text", "align": "center", "baseline": "middle", "fontSize": 15.5},
           "encoding": {"x": {"datum": 84, "type": "quantitative", "scale": {"domain": [0, 139]}}, "y": {"field": "n", "type": "quantitative", "scale": {"domain": [0.48, 12.52], "reverse": true}}, "text": {"field": "score", "type": "quantitative", "format": ".1f"}}},
          {"data": {"name": "shots"}, "transform": [{"filter": "datum.serie == 4 && datum.inner"}],
           "mark": {"type": "text", "align": "left", "baseline": "middle", "fontSize": 15.5},
           "encoding": {"x": {"datum": 99, "type": "quantitative", "scale": {"domain": [0, 139]}}, "y": {"field": "n", "type": "quantitative", "scale": {"domain": [0.48, 12.52], "reverse": true}}, "text": {"value": "x"}}},
          {"data": {"name": "shots"}, "transform": [{"filter": "datum.serie == 4"}],
           "mark": {"type": "point", "shape": "M-1,0L1,0M0.3,-0.35L1,0L0.3,0.35", "filled": false, "color": "black", "strokeWidth": 1, "size": 324, "opacity": 1},
           "encoding": {"x": {"datum": 123, "type": "quantitative", "scale": {"domain": [0, 139]}}, "y": {"field": "n", "type": "quantitative", "scale": {"domain": [0.48, 12.52], "reverse": true}}, "angle": {"field": "dir", "type": "quantitative", "scale": {"domain": [0, 360], "range": [360, 0]}}}},
          {"data": {"name": "seps"},
           "mark": {"type": "rule", "color": "black", "strokeWidth": 1},
           "encoding": {"x": {"datum": 0, "type": "quantitative", "scale": {"domain": [0, 139]}}, "x2": {"datum": 139}, "y": {"field": "line", "type": "quantitative", "scale": {"domain": [0.48, 12.52], "reverse": true}}}},
          {"data": {"name": "shots"}, "transform": [{"filter": "datum.serie == 4"}, {"aggregate": [{"op": "sum", "field": "score", "as": "sum"}]}],
           "layer": [
             {"mark": {"type": "text", "align": "left", "baseline": "middle", "fontSize": 15.5},
              "encoding": {"x": {"datum": 2, "type": "quantitative", "scale": {"domain": [0, 139]}}, "y": {"datum": 11, "type": "quantitative", "scale": {"domain": [0.48, 12.52], "reverse": true}}, "text": {"value": "Serie"}}},
             {"mark": {"type": "text", "align": "right", "baseline": "middle", "fontSize": 15.5},
              "encoding": {"x": {"datum": 136, "type": "quantitative", "scale": {"domain": [0, 139]}}, "y": {"datum": 11, "type": "quantitative", "scale": {"domain": [0.48, 12.52], "reverse": true}}, "text": {"field": "sum", "type": "quantitative", "format": ".1f"}}}
           ]},
          {"data": {"name": "shots"}, "transform": [{"filter": "datum.serie <= 4"}, {"aggregate": [{"op": "sum", "field": "score", "as": "sum"}]}],
           "layer": [
             {"mark": {"type": "text", "align": "left", "baseline": "middle", "fontSize": 15.5},
              "encoding": {"x": {"datum": 2, "type": "quantitative", "scale": {"domain": [0, 139]}}, "y": {"datum": 12, "type": "quantitative", "scale": {"domain": [0.48, 12.52], "reverse": true}}, "text": {"value": "Total"}}},
             {"mark": {"type": "text", "align": "right", "baseline": "middle", "fontSize": 15.5},
              "encoding": {"x": {"datum": 136, "type": "quantitative", "scale": {"domain": [0, 139]}}, "y": {"datum": 12, "type": "quantitative", "scale": {"domain": [0.48, 12.52], "reverse": true}}, "text": {"field": "sum", "type": "quantitative", "format": ".1f"}}}
           ]}
         ]},
        {"width": 230, "height": 325, "view": {"fill": "#c0c0c0", "stroke": "black", "strokeWidth": 1},
         "layer": [
          {"data": {"name": "rings"}, "transform": [{"filter": "datum.ring < 10"}],
           "mark": {"type": "point", "shape": "circle", "filled": false, "color": "black", "strokeWidth": 1, "opacity": 1, "clip": true},
           "encoding": {"x": {"field": "x", "type": "quantitative", "scale": {"domain": [-8.07, 8.07]}}, "y": {"field": "y", "type": "quantitative", "scale": {"domain": [-11.4, 11.4]}},
             "size": {"field": "r", "type": "quantitative", "legend": null, "scale": {"type": "pow", "exponent": 2, "domain": [0, 16], "range": [0, 207936]}}}},
          {"data": {"name": "ringlabels"},
           "mark": {"type": "text", "color": "white", "fontSize": 20.5, "baseline": "middle", "clip": true},
           "encoding": {"x": {"field": "x", "type": "quantitative", "scale": {"domain": [-8.07, 8.07]}}, "y": {"field": "y", "type": "quantitative", "scale": {"domain": [-11.4, 11.4]}}, "text": {"field": "label"}}},
          {"data": {"name": "shots"}, "transform": [{"filter": "datum.serie == 5"}],
           "mark": {"type": "point", "shape": "circle", "filled": true, "color": "#808080", "strokeWidth": 0, "opacity": 1},
           "encoding": {"x": {"field": "x", "type": "quantitative", "scale": {"domain": [-8.07, 8.07]}}, "y": {"field": "y", "type": "quantitative", "scale": {"domain": [-11.4, 11.4]}},
             "size": {"datum": 2.25, "type": "quantitative", "legend": null, "scale": {"type": "pow", "exponent": 2, "domain": [0, 16], "range": [0, 207936]}}}},
          {"data": {"name": "shots"}, "transform": [{"filter": "datum.serie == 5"}],
           "mark": {"type": "point", "shape": "circle", "filled": false, "color": "black", "strokeWidth": 1, "opacity": 1},
           "encoding": {"x": {"field": "x", "type": "quantitative", "scale": {"domain": [-8.07, 8.07]}}, "y": {"field": "y", "type": "quantitative", "scale": {"domain": [-11.4, 11.4]}},
             "size": {"datum": 2.25, "type": "quantitative", "legend": null, "scale": {"type": "pow", "exponent": 2, "domain": [0, 16], "range": [0, 207936]}}}},
          {"data": {"name": "cross"}, "transform": [{"filter": "datum.serie == 5"}],
           "mark": {"type": "point", "shape": "M-1,0L1,0M0,-1L0,1", "filled": false, "color": "white", "strokeWidth": 3, "size": 4356, "opacity": 1},
           "encoding": {"x": {"field": "x", "type": "quantitative", "scale": {"domain": [-8.07, 8.07]}}, "y": {"field": "y", "type": "quantitative", "scale": {"domain": [-11.4, 11.4]}}}},
          {"data": {"name": "rings"}, "transform": [{"filter": "datum.ring == 10"}],
           "mark": {"type": "point", "shape": "circle", "filled": true, "fill": "white", "stroke": "black", "strokeWidth": 1, "opacity": 1},
           "encoding": {"x": {"field": "x", "type": "quantitative", "scale": {"domain": [-8.07, 8.07]}}, "y": {"field": "y", "type": "quantitative", "scale": {"domain": [-11.4, 11.4]}},
             "size": {"field": "r", "type": "quantitative", "legend": null, "scale": {"type": "pow", "exponent": 2, "domain": [0, 16], "range": [0, 207936]}}}},
          {"data": {"name": "series"}, "transform": [{"filter": "datum.serie == 5"}],
           "mark": {"type": "text", "align": "left", "baseline": "top", "dx": 1, "dy": 2.5, "fontSize": 16},
           "encoding": {"x": {"datum": -8.07, "type": "quantitative", "scale": {"domain": [-8.07, 8.07]}}, "y": {"datum": 11.4, "type": "quantitative", "scale": {"domain": [-11.4, 11.4]}}, "text": {"field": "label"}}}
         ]},
        {"width": 139, "height": 325, "view": {"stroke": "black", "strokeWidth": 1},
         "layer": [
          {"data": {"name": "shots"}, "transform": [{"filter": "datum.serie == 5"}],
           "mark": {"type": "text", "align": "right", "baseline": "middle", "fontSize": 15.5},
           "encoding": {"x": {"datum": 43, "type": "quantitative", "scale": {"domain": [0, 139]}}, "y": {"field": "n", "type": "quantitative", "scale": {"domain": [0.48, 12.52], "reverse": true}}, "text": {"field": "n", "type": "quantitative"}}},
          {"data": {"name": "shots"}, "transform": [{"filter": "datum.serie == 5"}],
           "mark": {"type": "text", "align": "left", "baseline": "middle", "fontSize": 15.5},
           "encoding": {"x": {"datum": 43, "type": "quantitative", "scale": {"domain": [0, 139]}}, "y": {"field": "n", "type": "quantitative", "scale": {"domain": [0.48, 12.52], "reverse": true}}, "text": {"value": ":"}}},
          {"data": {"name": "shots"}, "transform": [{"filter": "datum.serie == 5"}],
           "mark": {"type": "text", "align": "center", "baseline": "middle", "fontSize": 15.5},
           "encoding": {"x": {"datum": 84, "type": "quantitative", "scale": {"domain": [0, 139]}}, "y": {"field": "n", "type": "quantitative", "scale": {"domain": [0.48, 12.52], "reverse": true}}, "text": {"field": "score", "type": "quantitative", "format": ".1f"}}},
          {"data": {"name": "shots"}, "transform": [{"filter": "datum.serie == 5 && datum.inner"}],
           "mark": {"type": "text", "align": "left", "baseline": "middle", "fontSize": 15.5},
           "encoding": {"x": {"datum": 99, "type": "quantitative", "scale": {"domain": [0, 139]}}, "y": {"field": "n", "type": "quantitative", "scale": {"domain": [0.48, 12.52], "reverse": true}}, "text": {"value": "x"}}},
          {"data": {"name": "shots"}, "transform": [{"filter": "datum.serie == 5"}],
           "mark": {"type": "point", "shape": "M-1,0L1,0M0.3,-0.35L1,0L0.3,0.35", "filled": false, "color": "black", "strokeWidth": 1, "size": 324, "opacity": 1},
           "encoding": {"x": {"datum": 123, "type": "quantitative", "scale": {"domain": [0, 139]}}, "y": {"field": "n", "type": "quantitative", "scale": {"domain": [0.48, 12.52], "reverse": true}}, "angle": {"field": "dir", "type": "quantitative", "scale": {"domain": [0, 360], "range": [360, 0]}}}},
          {"data": {"name": "seps"},
           "mark": {"type": "rule", "color": "black", "strokeWidth": 1},
           "encoding": {"x": {"datum": 0, "type": "quantitative", "scale": {"domain": [0, 139]}}, "x2": {"datum": 139}, "y": {"field": "line", "type": "quantitative", "scale": {"domain": [0.48, 12.52], "reverse": true}}}},
          {"data": {"name": "shots"}, "transform": [{"filter": "datum.serie == 5"}, {"aggregate": [{"op": "sum", "field": "score", "as": "sum"}]}],
           "layer": [
             {"mark": {"type": "text", "align": "left", "baseline": "middle", "fontSize": 15.5},
              "encoding": {"x": {"datum": 2, "type": "quantitative", "scale": {"domain": [0, 139]}}, "y": {"datum": 11, "type": "quantitative", "scale": {"domain": [0.48, 12.52], "reverse": true}}, "text": {"value": "Serie"}}},
             {"mark": {"type": "text", "align": "right", "baseline": "middle", "fontSize": 15.5},
              "encoding": {"x": {"datum": 136, "type": "quantitative", "scale": {"domain": [0, 139]}}, "y": {"datum": 11, "type": "quantitative", "scale": {"domain": [0.48, 12.52], "reverse": true}}, "text": {"field": "sum", "type": "quantitative", "format": ".1f"}}}
           ]},
          {"data": {"name": "shots"}, "transform": [{"filter": "datum.serie <= 5"}, {"aggregate": [{"op": "sum", "field": "score", "as": "sum"}]}],
           "layer": [
             {"mark": {"type": "text", "align": "left", "baseline": "middle", "fontSize": 15.5},
              "encoding": {"x": {"datum": 2, "type": "quantitative", "scale": {"domain": [0, 139]}}, "y": {"datum": 12, "type": "quantitative", "scale": {"domain": [0.48, 12.52], "reverse": true}}, "text": {"value": "Total"}}},
             {"mark": {"type": "text", "align": "right", "baseline": "middle", "fontSize": 15.5},
              "encoding": {"x": {"datum": 136, "type": "quantitative", "scale": {"domain": [0, 139]}}, "y": {"datum": 12, "type": "quantitative", "scale": {"domain": [0.48, 12.52], "reverse": true}}, "text": {"field": "sum", "type": "quantitative", "format": ".1f"}}}
           ]}
         ]},
        {"width": 230, "height": 325, "view": {"fill": "#c0c0c0", "stroke": "black", "strokeWidth": 1},
         "layer": [
          {"data": {"name": "rings"}, "transform": [{"filter": "datum.ring < 10"}],
           "mark": {"type": "point", "shape": "circle", "filled": false, "color": "black", "strokeWidth": 1, "opacity": 1, "clip": true},
           "encoding": {"x": {"field": "x", "type": "quantitative", "scale": {"domain": [-8.07, 8.07]}}, "y": {"field": "y", "type": "quantitative", "scale": {"domain": [-11.4, 11.4]}},
             "size": {"field": "r", "type": "quantitative", "legend": null, "scale": {"type": "pow", "exponent": 2, "domain": [0, 16], "range": [0, 207936]}}}},
          {"data": {"name": "ringlabels"},
           "mark": {"type": "text", "color": "white", "fontSize": 20.5, "baseline": "middle", "clip": true},
           "encoding": {"x": {"field": "x", "type": "quantitative", "scale": {"domain": [-8.07, 8.07]}}, "y": {"field": "y", "type": "quantitative", "scale": {"domain": [-11.4, 11.4]}}, "text": {"field": "label"}}},
          {"data": {"name": "shots"}, "transform": [{"filter": "datum.serie == 6"}],
           "mark": {"type": "point", "shape": "circle", "filled": true, "color": "#808080", "strokeWidth": 0, "opacity": 1},
           "encoding": {"x": {"field": "x", "type": "quantitative", "scale": {"domain": [-8.07, 8.07]}}, "y": {"field": "y", "type": "quantitative", "scale": {"domain": [-11.4, 11.4]}},
             "size": {"datum": 2.25, "type": "quantitative", "legend": null, "scale": {"type": "pow", "exponent": 2, "domain": [0, 16], "range": [0, 207936]}}}},
          {"data": {"name": "shots"}, "transform": [{"filter": "datum.serie == 6"}],
           "mark": {"type": "point", "shape": "circle", "filled": false, "color": "black", "strokeWidth": 1, "opacity": 1},
           "encoding": {"x": {"field": "x", "type": "quantitative", "scale": {"domain": [-8.07, 8.07]}}, "y": {"field": "y", "type": "quantitative", "scale": {"domain": [-11.4, 11.4]}},
             "size": {"datum": 2.25, "type": "quantitative", "legend": null, "scale": {"type": "pow", "exponent": 2, "domain": [0, 16], "range": [0, 207936]}}}},
          {"data": {"name": "cross"}, "transform": [{"filter": "datum.serie == 6"}],
           "mark": {"type": "point", "shape": "M-1,0L1,0M0,-1L0,1", "filled": false, "color": "white", "strokeWidth": 3, "size": 4356, "opacity": 1},
           "encoding": {"x": {"field": "x", "type": "quantitative", "scale": {"domain": [-8.07, 8.07]}}, "y": {"field": "y", "type": "quantitative", "scale": {"domain": [-11.4, 11.4]}}}},
          {"data": {"name": "rings"}, "transform": [{"filter": "datum.ring == 10"}],
           "mark": {"type": "point", "shape": "circle", "filled": true, "fill": "white", "stroke": "black", "strokeWidth": 1, "opacity": 1},
           "encoding": {"x": {"field": "x", "type": "quantitative", "scale": {"domain": [-8.07, 8.07]}}, "y": {"field": "y", "type": "quantitative", "scale": {"domain": [-11.4, 11.4]}},
             "size": {"field": "r", "type": "quantitative", "legend": null, "scale": {"type": "pow", "exponent": 2, "domain": [0, 16], "range": [0, 207936]}}}},
          {"data": {"name": "series"}, "transform": [{"filter": "datum.serie == 6"}],
           "mark": {"type": "text", "align": "left", "baseline": "top", "dx": 1, "dy": 2.5, "fontSize": 16},
           "encoding": {"x": {"datum": -8.07, "type": "quantitative", "scale": {"domain": [-8.07, 8.07]}}, "y": {"datum": 11.4, "type": "quantitative", "scale": {"domain": [-11.4, 11.4]}}, "text": {"field": "label"}}}
         ]},
        {"width": 138, "height": 325, "view": {"stroke": "black", "strokeWidth": 1},
         "layer": [
          {"data": {"name": "shots"}, "transform": [{"filter": "datum.serie == 6"}],
           "mark": {"type": "text", "align": "right", "baseline": "middle", "fontSize": 15.5},
           "encoding": {"x": {"datum": 43, "type": "quantitative", "scale": {"domain": [0, 139]}}, "y": {"field": "n", "type": "quantitative", "scale": {"domain": [0.48, 12.52], "reverse": true}}, "text": {"field": "n", "type": "quantitative"}}},
          {"data": {"name": "shots"}, "transform": [{"filter": "datum.serie == 6"}],
           "mark": {"type": "text", "align": "left", "baseline": "middle", "fontSize": 15.5},
           "encoding": {"x": {"datum": 43, "type": "quantitative", "scale": {"domain": [0, 139]}}, "y": {"field": "n", "type": "quantitative", "scale": {"domain": [0.48, 12.52], "reverse": true}}, "text": {"value": ":"}}},
          {"data": {"name": "shots"}, "transform": [{"filter": "datum.serie == 6"}],
           "mark": {"type": "text", "align": "center", "baseline": "middle", "fontSize": 15.5},
           "encoding": {"x": {"datum": 84, "type": "quantitative", "scale": {"domain": [0, 139]}}, "y": {"field": "n", "type": "quantitative", "scale": {"domain": [0.48, 12.52], "reverse": true}}, "text": {"field": "score", "type": "quantitative", "format": ".1f"}}},
          {"data": {"name": "shots"}, "transform": [{"filter": "datum.serie == 6 && datum.inner"}],
           "mark": {"type": "text", "align": "left", "baseline": "middle", "fontSize": 15.5},
           "encoding": {"x": {"datum": 99, "type": "quantitative", "scale": {"domain": [0, 139]}}, "y": {"field": "n", "type": "quantitative", "scale": {"domain": [0.48, 12.52], "reverse": true}}, "text": {"value": "x"}}},
          {"data": {"name": "shots"}, "transform": [{"filter": "datum.serie == 6"}],
           "mark": {"type": "point", "shape": "M-1,0L1,0M0.3,-0.35L1,0L0.3,0.35", "filled": false, "color": "black", "strokeWidth": 1, "size": 324, "opacity": 1},
           "encoding": {"x": {"datum": 123, "type": "quantitative", "scale": {"domain": [0, 139]}}, "y": {"field": "n", "type": "quantitative", "scale": {"domain": [0.48, 12.52], "reverse": true}}, "angle": {"field": "dir", "type": "quantitative", "scale": {"domain": [0, 360], "range": [360, 0]}}}},
          {"data": {"name": "seps"},
           "mark": {"type": "rule", "color": "black", "strokeWidth": 1},
           "encoding": {"x": {"datum": 0, "type": "quantitative", "scale": {"domain": [0, 139]}}, "x2": {"datum": 139}, "y": {"field": "line", "type": "quantitative", "scale": {"domain": [0.48, 12.52], "reverse": true}}}},
          {"data": {"name": "shots"}, "transform": [{"filter": "datum.serie == 6"}, {"aggregate": [{"op": "sum", "field": "score", "as": "sum"}]}],
           "layer": [
             {"mark": {"type": "text", "align": "left", "baseline": "middle", "fontSize": 15.5},
              "encoding": {"x": {"datum": 2, "type": "quantitative", "scale": {"domain": [0, 139]}}, "y": {"datum": 11, "type": "quantitative", "scale": {"domain": [0.48, 12.52], "reverse": true}}, "text": {"value": "Serie"}}},
             {"mark": {"type": "text", "align": "right", "baseline": "middle", "fontSize": 15.5},
              "encoding": {"x": {"datum": 136, "type": "quantitative", "scale": {"domain": [0, 139]}}, "y": {"datum": 11, "type": "quantitative", "scale": {"domain": [0.48, 12.52], "reverse": true}}, "text": {"field": "sum", "type": "quantitative", "format": ".1f"}}}
           ]},
          {"data": {"name": "shots"}, "transform": [{"filter": "datum.serie <= 6"}, {"aggregate": [{"op": "sum", "field": "score", "as": "sum"}]}],
           "layer": [
             {"mark": {"type": "text", "align": "left", "baseline": "middle", "fontSize": 15.5},
              "encoding": {"x": {"datum": 2, "type": "quantitative", "scale": {"domain": [0, 139]}}, "y": {"datum": 12, "type": "quantitative", "scale": {"domain": [0.48, 12.52], "reverse": true}}, "text": {"value": "Total"}}},
             {"mark": {"type": "text", "align": "right", "baseline": "middle", "fontSize": 15.5},
              "encoding": {"x": {"datum": 136, "type": "quantitative", "scale": {"domain": [0, 139]}}, "y": {"datum": 12, "type": "quantitative", "scale": {"domain": [0.48, 12.52], "reverse": true}}, "text": {"field": "sum", "type": "quantitative", "format": ".1f"}}}
           ]}
         ]}
      ]
    },
    {
      "width": 737, "height": 16,
      "data": {"name": "footer"},
      "layer": [
        {"transform": [{"filter": "datum.pos == 'left'"}],
         "mark": {"type": "text", "align": "left", "baseline": "middle", "fontSize": 11},
         "encoding": {"x": {"datum": 0, "type": "quantitative", "scale": {"domain": [0, 737]}}, "text": {"field": "text"}}},
        {"transform": [{"filter": "datum.pos == 'center'"}],
         "mark": {"type": "text", "align": "center", "baseline": "middle", "fontSize": 11},
         "encoding": {"x": {"datum": 364, "type": "quantitative", "scale": {"domain": [0, 737]}}, "text": {"field": "text"}}},
        {"transform": [{"filter": "datum.pos == 'right'"}],
         "mark": {"type": "text", "align": "right", "baseline": "middle", "fontSize": 11},
         "encoding": {"x": {"datum": 737, "type": "quantitative", "scale": {"domain": [0, 737]}}, "text": {"field": "text"}}}
      ]
    }
  ]
}
